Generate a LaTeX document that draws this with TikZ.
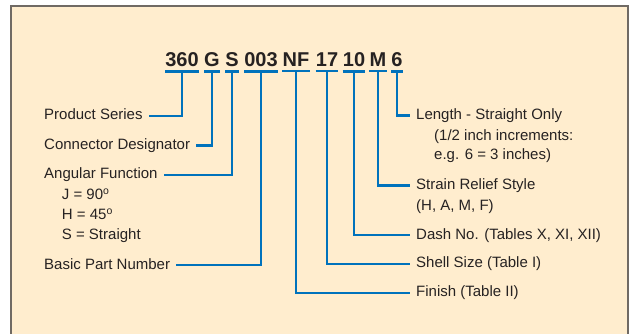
\documentclass[tikz,border=0pt]{standalone}
\usepackage{fontspec}
\setmainfont{Liberation Sans}
\usepackage{tikz}
\usetikzlibrary{positioning,calc}
\definecolor{panelBg}{RGB}{255,237,206}
\definecolor{panelEdge}{RGB}{112,106,100}
\definecolor{leadBlue}{RGB}{0,114,188}
\definecolor{inkGrey}{RGB}{38,34,34}
\tikzset{
  code/.style={anchor=base, inner xsep=0pt, inner ysep=4pt, text=inkGrey,
    font=\fontsize{20}{24}\selectfont\bfseries},
  lbl/.style={anchor=base west, inner xsep=6pt, inner ysep=0pt, text=inkGrey,
    text height=11pt, text depth=3.5pt, font=\fontsize{15}{18}\selectfont},
  lead/.style={draw=leadBlue, line width=2.4pt}
}
\begin{document}
\begin{tikzpicture}[x=1pt,y=-1pt]
                    % Panel
                    \useasboundingbox (0,0) rectangle (629,334);
                    \clip (0,0) rectangle (629,334);
                    \fill[panelBg] (11,6) rectangle (640,345);
                    \draw[panelEdge, line width=1.4pt] (11,345) -- (11,6) -- (628,6) -- (628,345);

                    % Part number
                    \node[code] (c360) at (182,67) {360};
                    \node[code] (cG) at (212,67) {G};
                    \node[code] (cS) at (232,67) {S};
                    \node[code] (c003) at (261,67) {003};
                    \node[code] (cNF) at (296,67) {NF};
                    \node[code] (c17) at (327,67) {17};
                    \node[code] (c10) at (354,67) {10};
                    \node[code] (cM) at (378,67) {M};
                    \node[code] (c6) at (397,67) {6};

                    % Left labels
                    \node[lbl] (lblSeries) at (38,120) {Product Series};
                    \node[lbl] (lblDesig) at (38,149.3) {Connector Designator};
                    \node[lbl] (lblAngular) at (38,178.7) {Angular Function};
                    \node[lbl] (lblJ) at (55.7,199.3) {J = 90\textsuperscript{o}};
                    \node[lbl] (lblH) at (55.7,219.3) {H = 45\textsuperscript{o}};
                    \node[lbl] (lblS) at (55.7,239.3) {S = Straight};
                    \node[lbl] (lblBasic) at (38,269) {Basic Part Number};

                    % Right labels
                    \node[lbl] (lblLength) at (410,119.3) {Length - Straight Only};
                    \node[lbl] (lblIncr) at (428,140) {(1/2 inch increments:};
                    \node[lbl] (lblEg) at (428,160) {e.g. 6 = 3 inches)};
                    \node[lbl] (lblStrain) at (410,189.3) {Strain Relief Style};
                    \node[lbl] (lblHAMF) at (410,210) {(H, A, M, F)};
                    \node[lbl] (lblDash) at (410,239) {Dash No. (Tables X, XI, XII)};
                    \node[lbl] (lblShell) at (410,267.7) {Shell Size (Table I)};
                    \node[lbl] (lblFinish) at (410,296.7) {Finish (Table II)};

                    % Underbars
                    \foreach \c in {c360,cG,cS,c003,cNF,c17,c10,cM,c6}
                        \draw[lead] (\c.south west) -- (\c.south east);

                    % Leads
                    \draw[lead] (c360.south) |- (lblSeries.east);
                    \draw[lead] (cG.south) |- (lblDesig.east);
                    \draw[lead] (cS.south) |- (lblAngular.east);
                    \draw[lead] (c003.south) |- (lblBasic.east);
                    \draw[lead] (cNF.south) |- (lblFinish.west);
                    \draw[lead] (c17.south) |- (lblShell.west);
                    \draw[lead] (c10.south) |- (lblDash.west);
                    \draw[lead] (cM.south) |- (lblStrain.west);
                    \draw[lead] (c6.south) |- (lblLength.west);
                \end{tikzpicture}
\end{document}
